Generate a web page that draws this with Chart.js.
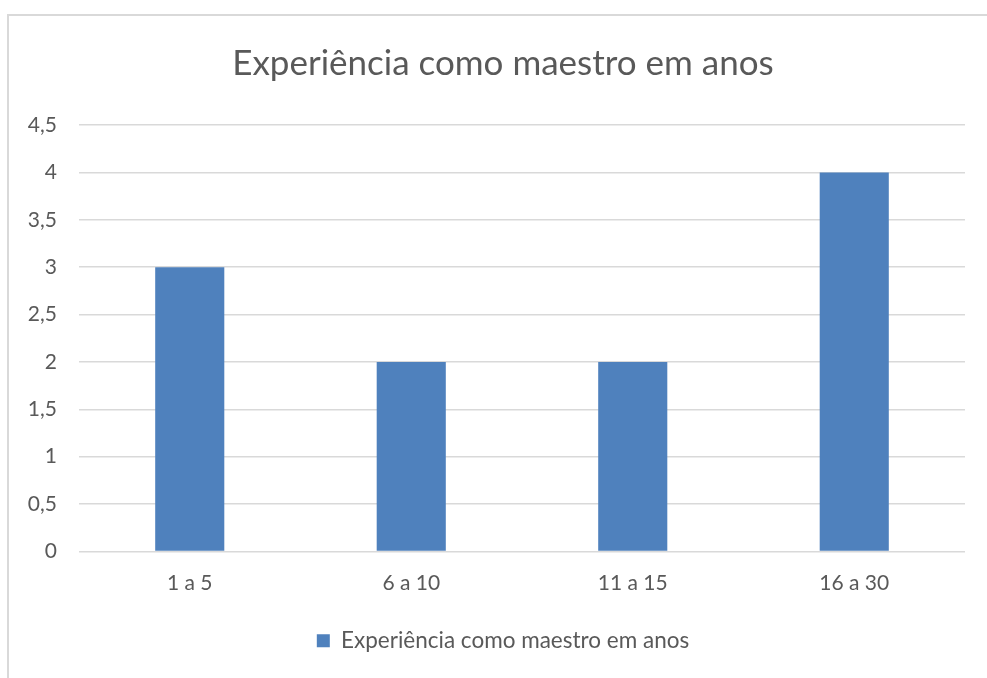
<!DOCTYPE html>
<html>
<head>
<meta charset="utf-8">
<script src="https://cdn.jsdelivr.net/npm/chart.js@4.4.1/dist/chart.umd.min.js"></script>
<style>
html,body{margin:0;padding:0;background:#fff;overflow:hidden;}
#wrap{position:absolute;left:0;top:0;width:987px;height:678px;}
</style>
</head>
<body>
<div id="wrap"><canvas id="c" width="987" height="678"></canvas></div>
<script>
const titleText = "Experiência como maestro em anos";
const categories = ["1 a 5", "6 a 10", "11 a 15", "16 a 30"];
const seriesName = "Experiência como maestro em anos";
const seriesValues = [3, 2, 2, 4];
const yMin = 0, yMax = 4.5, yStep = 0.5;

const FONT = "Lato, 'Open Sans', sans-serif";
const TEXT = "#595959";
const GRID = "#d9d9d9";

const borderPlugin = {
  id: "frame",
  beforeDraw(chart) {
    const ctx = chart.ctx;
    ctx.save();
    ctx.fillStyle = "#fff";
    ctx.fillRect(0, 0, chart.width, chart.height);
    ctx.strokeStyle = GRID;
    ctx.lineWidth = 2;
    ctx.beginPath();
    ctx.moveTo(8, chart.height);
    ctx.lineTo(8, 15);
    ctx.lineTo(chart.width, 15);
    ctx.stroke();
    ctx.restore();
  }
};

new Chart(document.getElementById("c"), {
  type: "bar",
  data: {
    labels: categories,
    datasets: [{
      label: seriesName,
      data: seriesValues,
      backgroundColor: "#4F81BD",
      borderWidth: 0,
      barPercentage: 1,
      categoryPercentage: 0.312
    }]
  },
  options: {
    responsive: false,
    animation: false,
    devicePixelRatio: 1,
    layout: { padding: { top: 0, left: 41, right: 22, bottom: 16 } },
    plugins: {
      title: {
        display: true,
        text: titleText,
        color: TEXT,
        font: { family: FONT, size: 35, weight: "normal" },
        padding: { top: 43, bottom: 40 }
      },
      legend: {
        display: true,
        position: "bottom",
        labels: {
          color: TEXT,
          font: { family: FONT, size: 22.5 },
          boxWidth: 13,
          boxHeight: 13,
          padding: 10
        }
      },
      tooltip: { enabled: false }
    },
    scales: {
      x: {
        grid: { display: false, drawTicks: false },
        border: { display: false },
        ticks: { color: TEXT, font: { family: FONT, size: 21 }, padding: 19 },
        afterFit(scale) { scale.height = 68; }
      },
      y: {
        min: yMin, max: yMax,
        grid: { color: GRID, lineWidth: 1.5, drawTicks: false },
        border: { display: false },
        ticks: {
          stepSize: yStep,
          color: TEXT,
          font: { family: FONT, size: 21 },
          padding: 22,
          callback: v => String(v).replace(".", ",")
        },
        afterFit(scale) {
          scale.width = 38;
          scale._computeLabelArea = () => undefined;
        }
      }
    }
  },
  plugins: [borderPlugin]
});
</script>
</body>
</html>
